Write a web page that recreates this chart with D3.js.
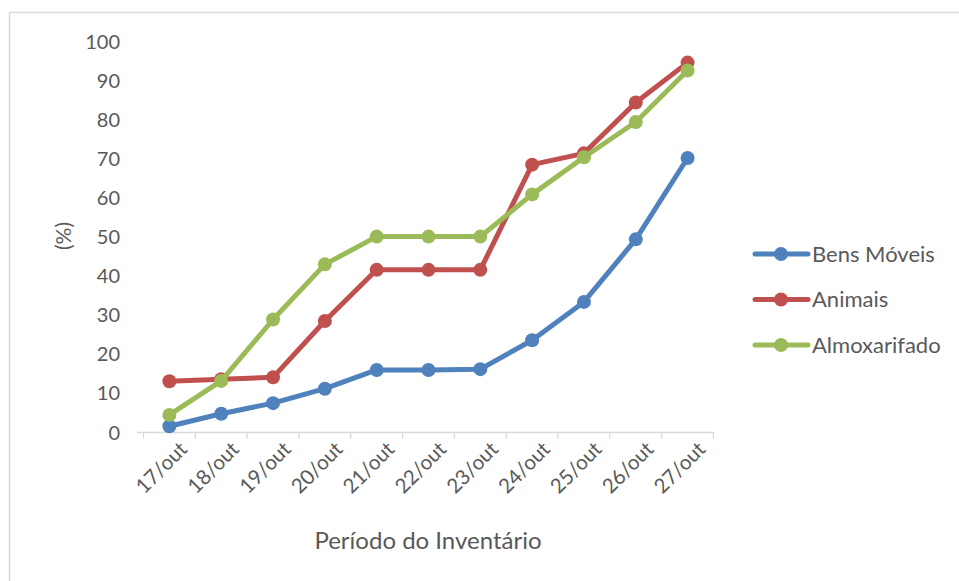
<!DOCTYPE html>
<html>
<head>
<meta charset="utf-8">
<script src="https://cdn.jsdelivr.net/npm/d3@7"></script>
<style>
  html, body { margin: 0; padding: 0; background: #fff; }
  svg { display: block; font-family: Lato, "Open Sans", sans-serif; }
</style>
</head>
<body>
<svg id="chart" width="959" height="581"></svg>
<script>
const categories = ["17/out","18/out","19/out","20/out","21/out","22/out","23/out","24/out","25/out","26/out","27/out"];
const bensMoveis = [1.6, 4.8, 7.5, 11.2, 16.0, 16.0, 16.2, 23.6, 33.4, 49.4, 70.2];
const animais = [13.1, 13.6, 14.1, 28.5, 41.6, 41.6, 41.6, 68.5, 71.4, 84.4, 94.6];
const almoxarifado = [4.5, 13.2, 28.9, 43.0, 50.1, 50.1, 50.1, 60.9, 70.4, 79.4, 92.6];
const seriesNames = ["Bens Móveis", "Animais", "Almoxarifado"];
const yTicks = [0,10,20,30,40,50,60,70,80,90,100];

const colors = ["#4f81bd", "#c0504d", "#9bbb59"];
const series = [bensMoveis, animais, almoxarifado].map((v, i) => ({name: seriesNames[i], values: v, color: colors[i]}));

const svg = d3.select("#chart");

// chart border
svg.append("rect").attr("x", 9.5).attr("y", 12.5).attr("width", 1000).attr("height", 1000)
  .attr("fill", "none").attr("stroke", "#d9d9d9").attr("stroke-width", 1.5);

const x = d3.scaleBand().domain(categories).range([143.5, 713.5]);
const y = d3.scaleLinear().domain([0, 100]).range([432.5, 41.5]);

// x axis
const xAxisG = svg.append("g").attr("transform", "translate(0,432.5)");
xAxisG.append("line").attr("x1", 137).attr("x2", 713.5).attr("stroke", "#d9d9d9").attr("stroke-width", 1.3);
const bounds = categories.map(c => x(c)).concat([x.range()[1]]);
xAxisG.selectAll("line.tick").data(bounds).enter().append("line")
  .attr("class", "tick").attr("x1", d => d).attr("x2", d => d).attr("y1", 0).attr("y2", 6)
  .attr("stroke", "#d9d9d9").attr("stroke-width", 1.3);

xAxisG.selectAll("text").data(categories).enter().append("text")
  .attr("transform", d => `translate(${x(d) + x.bandwidth()/2 + 14},${13}) rotate(-45)`)
  .attr("text-anchor", "end")
  .attr("dy", "0.35em")
  .attr("fill", "#595959")
  .attr("font-size", 20.5)
  .text(d => d);

// y tick labels
svg.append("g").selectAll("text").data(yTicks).enter().append("text")
  .attr("x", 120).attr("y", d => y(d)).attr("dy", "0.35em")
  .attr("text-anchor", "end").attr("fill", "#595959").attr("font-size", 20)
  .text(d => d);

// axis titles
svg.append("text").attr("transform", "translate(64,236) rotate(-90)")
  .attr("text-anchor", "middle").attr("dy", "0.35em").attr("fill", "#595959").attr("font-size", 21)
  .text("(%)");
svg.append("text").attr("x", 428).attr("y", 541).attr("dy", "0.35em")
  .attr("text-anchor", "middle").attr("fill", "#595959").attr("font-size", 24)
  .text("Período do Inventário");

// lines
const line = d3.line().x((d, i) => x(categories[i]) + x.bandwidth()/2).y(d => y(d));
const sg = svg.append("g").selectAll("g").data(series).enter().append("g");
sg.append("path").attr("d", d => line(d.values)).attr("fill", "none")
  .attr("stroke", d => d.color).attr("stroke-width", 5).attr("stroke-linejoin", "round").attr("stroke-linecap", "round");
sg.each(function(s) {
  d3.select(this).selectAll("circle").data(s.values).enter().append("circle")
    .attr("cx", (d, i) => x(categories[i]) + x.bandwidth()/2)
    .attr("cy", d => y(d)).attr("r", 7).attr("fill", s.color);
});

// legend
const lg = svg.append("g").selectAll("g").data(series).enter().append("g")
  .attr("transform", (d, i) => `translate(0,${254 + i * 45.5})`);
lg.append("line").attr("x1", 755).attr("x2", 808).attr("stroke", d => d.color)
  .attr("stroke-width", 5).attr("stroke-linecap", "round");
lg.append("circle").attr("cx", 781).attr("cy", 0).attr("r", 7).attr("fill", d => d.color);
lg.append("text").attr("x", 812).attr("y", 0).attr("dy", "0.35em").attr("fill", "#595959")
  .attr("font-size", 22).text(d => d.name);
</script>
</body>
</html>
